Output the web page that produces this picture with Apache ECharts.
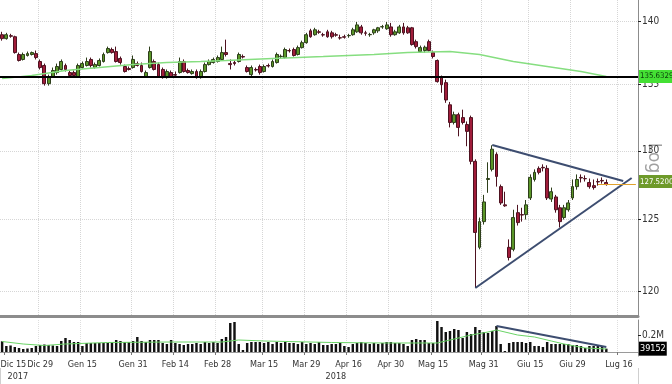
<!DOCTYPE html>
<html><head><meta charset="utf-8">
<script src="https://cdn.jsdelivr.net/npm/echarts@6/dist/echarts.min.js"></script>
<style>html,body{margin:0;padding:0;background:#fff}#c{width:672px;height:384px}</style>
</head><body><div id="c"></div>
<script>
// ---------- categories (trading days, Borsa Italiana holidays skipped) ----------
const holidays = ['2017-12-25','2017-12-26','2018-01-01','2018-03-30','2018-04-02','2018-05-01'];
const firstDay = '2017-12-14', lastDay = '2018-07-20';
function tradingDays(a, b, skip) {
  const out = [];
  const d = new Date(a + 'T00:00:00Z'), end = new Date(b + 'T00:00:00Z');
  while (d <= end) {
    const wd = d.getUTCDay(), s = d.toISOString().slice(0, 10);
    if (wd !== 0 && wd !== 6 && skip.indexOf(s) < 0) out.push(s);
    d.setUTCDate(d.getUTCDate() + 1);
  }
  return out;
}
const categories = tradingDays(firstDay, lastDay, holidays);

// ---------- tick labels ----------
const tickDates = ['2017-12-15','2017-12-29','2018-01-15','2018-01-31','2018-02-14','2018-02-28','2018-03-15','2018-03-29','2018-04-16','2018-04-30','2018-05-15','2018-05-31','2018-06-15','2018-06-29','2018-07-16'];
const tickLabels = ['Dic 15','Dic 29','Gen 15','Gen 31','Feb 14','Feb 28','Mar 15','Mar 29','Apr 16','Apr 30','Mag 15','Mag 31','Giu 15','Giu 29','Lug 16'];
const yearDates = ['2017-12-15','2018-04-11'];
const yearLabels = ['2017','2018'];
const yearBreakDate = '2018-01-02';
const priceTicks = [120,125,130,135,140];
const priceMin = 118.3, priceMax = 141.69;
const volTicks = [200000];
const volTickLabels = ['0.2M'];
const volMin = -47060, volMax = 376480;

// ---------- price data [open, close, low, high] ----------
const ohlc = [
[138.91,138.60,138.44,139.14],[138.60,138.91,138.52,139.06],[138.83,138.79,138.67,138.98],[138.75,137.50,137.42,138.83],
[137.35,136.88,136.80,137.50],[136.96,137.35,136.88,137.50],[137.27,137.42,137.19,137.58],[137.35,137.50,137.27,137.58],
[137.42,137.11,136.96,137.66],[136.80,136.33,136.18,136.96],[136.49,135.08,134.93,136.64],[135.08,135.55,134.93,135.78],
[135.63,136.10,135.55,136.33],[135.94,136.41,135.78,136.64],[136.18,136.80,136.10,136.96],[136.49,136.18,136.02,136.64],
[135.94,135.71,135.55,136.10],[135.94,135.71,135.63,136.10],[135.63,136.49,135.55,136.64],[136.33,136.64,136.25,136.80],
[136.49,136.80,136.41,137.11],[136.96,136.49,136.33,137.11],[136.33,136.56,136.25,136.72],[136.49,136.88,136.41,137.04],
[136.80,137.35,136.72,137.50],[137.50,137.82,137.42,137.97],[137.74,137.50,137.42,137.89],[137.58,136.80,136.72,137.97],
[137.04,136.72,136.56,137.19],[136.41,136.02,135.94,136.56],[136.25,136.18,136.10,136.41],[136.33,136.96,136.25,137.27],
[136.64,136.49,136.41,136.80],[136.49,136.02,135.94,136.72],[135.63,135.94,135.55,136.10],[136.33,137.58,136.25,137.97],
[136.80,136.18,136.10,136.96],[136.56,135.63,135.55,136.72],[136.18,135.55,135.47,136.33],[135.55,136.02,135.47,136.18],
[135.94,135.63,135.55,136.10],[135.78,135.74,135.55,136.02],[135.94,136.80,135.86,137.11],[136.80,136.02,135.94,136.96],
[136.10,135.94,135.86,136.25],[135.86,136.02,135.78,136.18],[136.02,135.55,135.47,136.18],[135.55,136.02,135.47,136.18],
[136.02,136.56,135.94,136.72],[136.56,136.80,136.49,136.96],[136.72,136.96,136.64,137.11],[136.80,137.11,136.72,137.27],
[136.96,137.50,136.88,137.97],[137.50,137.35,137.19,138.52],[136.64,136.56,136.18,136.96],[136.72,136.64,136.49,136.88],
[136.80,137.35,136.72,137.50],[137.19,137.15,137.04,137.35],[136.33,136.02,135.94,136.49],[135.78,136.33,135.63,136.49],
[136.18,136.14,136.02,136.33],[136.41,135.94,135.78,136.56],[136.02,136.41,135.94,136.56],[136.49,136.45,136.33,136.64],
[136.41,136.80,136.33,136.96],[136.72,137.35,136.64,137.50],[137.19,137.21,137.04,137.35],[137.11,137.74,137.04,137.89],
[137.66,137.64,137.50,137.82],[137.74,137.27,137.19,137.89],[137.35,137.89,137.27,138.05],[137.89,138.28,137.82,138.44],
[138.28,138.91,138.20,139.06],[139.22,138.75,138.67,139.38],[138.91,139.30,138.83,139.46],[139.14,139.10,138.98,139.30],
[138.91,138.89,138.75,139.06],[139.14,138.75,138.67,139.30],[139.06,138.75,138.60,139.22],[138.91,138.87,138.75,139.06],
[138.67,138.65,138.52,138.91],[138.75,138.71,138.60,138.91],[138.83,138.85,138.67,138.98],[138.91,139.30,138.83,139.46],
[139.14,139.69,139.06,139.92],[139.53,139.06,138.91,139.69],[139.06,139.02,138.83,139.22],[138.91,138.93,138.75,139.06],
[139.06,139.30,138.91,139.38],[139.22,139.46,139.06,139.53],[139.53,139.55,139.38,139.69],[139.38,139.69,139.30,139.92],
[139.53,138.91,138.75,139.85],[138.91,139.14,138.83,139.30],[139.06,139.53,138.98,139.69],[139.53,139.06,138.91,139.85],
[139.46,139.06,138.98,139.61],[139.46,138.13,138.05,139.53],[138.36,137.97,137.82,138.52],[137.58,137.89,137.50,138.05],
[137.66,137.92,137.50,138.05],[138.36,137.66,137.58,138.52],[137.50,137.19,137.04,137.66],[136.88,135.24,135.16,136.96],
[135.55,135.00,134.38,135.71],[135.16,133.83,133.61,135.39],[133.46,132.12,131.75,133.68],[132.12,132.71,131.97,132.94],
[132.71,131.75,131.08,132.86],[132.49,132.12,131.97,133.09],[131.97,131.45,130.34,132.20],[132.49,129.22,129.00,132.64],
[129.22,124.08,120.21,129.37],[123.03,124.85,122.89,125.14],[124.85,126.26,124.64,126.77],[127.89,127.96,126.92,129.15],
[128.63,130.12,128.48,130.41],[129.74,128.11,127.37,129.89],[127.37,126.19,126.05,127.52],[126.05,125.98,125.91,127.00],
[123.03,122.32,122.11,123.59],[122.89,125.14,122.75,125.70],[125.49,124.78,124.57,126.05],[125.35,125.32,124.85,125.84],
[125.35,126.05,125.00,126.40],[126.55,128.04,126.40,128.26],[127.89,128.41,127.74,128.63],[128.70,128.41,128.26,128.85],
[128.78,128.74,128.48,129.00],[128.70,126.55,126.40,128.93],[126.47,127.00,126.26,127.30],[126.62,125.70,125.49,126.77],
[125.84,124.85,124.43,126.05],[125.14,125.84,125.00,126.05],[125.70,126.19,125.56,126.40],[126.55,127.37,126.40,127.89],
[127.37,127.89,127.15,128.26],[128.04,128.00,127.67,128.26],[127.96,127.94,127.74,128.19],[127.67,127.37,127.22,127.96],
[127.44,127.30,127.15,127.89],[127.74,127.71,127.44,127.96],[127.82,127.78,127.59,128.04],[127.67,127.52,127.44,127.89]
];

// ---------- volume ----------
const volumes = [
125900,70600,76500,58800,47100,35300,41200,47100,70600,82400,
88200,82400,76500,70600,129400,164700,141200,117600,117600,70600,
105900,105900,105900,105900,105900,105900,111800,141200,129400,117600,
117600,129400,176500,129400,117600,141200,141200,141200,105900,94100,
141200,105900,94100,82400,94100,94100,105900,94100,117600,105900,
117600,105900,152900,176500,341200,353000,94100,23500,105900,117600,
117600,117600,105900,117600,94100,117600,105900,117600,105900,105900,
94100,117600,94100,105900,94100,117600,82400,82400,94100,94100,
105900,70600,58800,94100,105900,117600,105900,94100,105900,94100,
105900,117600,117600,105900,105900,94100,70600,141200,152900,141200,
141200,105900,105900,364700,294100,235300,247100,270600,258800,164700,
235300,211800,294100,258800,235300,223500,247100,305900,94100,11800,
105900,117600,117600,117600,105900,117600,70600,70600,58800,117600,
94100,94100,94100,94100,94100,82400,82400,70600,47100,70600,
70600,70600,58800,39152
];

// ---------- moving averages (read points) ----------
const maDates = ['2017-12-14','2017-12-27','2018-01-09','2018-01-19','2018-01-31','2018-02-12','2018-02-22','2018-03-02','2018-03-19','2018-04-06','2018-04-24','2018-05-07','2018-05-21','2018-05-30','2018-06-11','2018-06-21','2018-07-03','2018-07-11'];
const maValues = [135.47,135.71,136.10,136.33,136.56,136.72,136.80,136.88,137.04,137.19,137.35,137.50,137.58,137.35,136.80,136.41,136.02,135.6329];
const volMaDates = ['2017-12-14','2017-12-21','2018-01-02','2018-01-09','2018-01-23','2018-02-13','2018-03-01','2018-03-07','2018-03-15','2018-04-10','2018-04-26','2018-05-16','2018-05-22','2018-05-28','2018-06-01','2018-06-05','2018-06-12','2018-06-18','2018-06-22','2018-06-27','2018-07-04','2018-07-11'];
const volMaValues = [123500,94100,76500,94100,111800,117600,117600,141200,129400,111800,105900,105900,152900,200000,235300,258800,200000,176500,129400,94100,47100,35300];

// ---------- annotations ----------
const supportLevel = 135.25;
const triUpperDates = ['2018-06-04','2018-07-17'], triUpperValues = [130.43,127.78];
const triLowerDates = ['2018-05-29','2018-07-19'], triLowerValues = [120.21,128.0];
const lastPrice = 127.52, lastPriceDates = ['2018-07-09','2018-07-20'];
const lastMa = 135.6329;
const volTrendDates = ['2018-06-05','2018-07-11'], volTrendValues = [305900,58800];
const lastVolume = 39152;

// ---------- chart ----------
const L = Math.log;
const FF = "'Liberation Sans Narrow','DejaVu Sans Condensed',sans-serif";
const isTick = (i, v) => tickDates.indexOf(v) >= 0;
const isGrid = (i, v) => tickDates.indexOf(v) > 0;
const triColor = '#3d4d70';
const clear = 'rgba(0,0,0,0)';
const boxLabel = (text, bg, fg, size) => ({show: true, position: 'end', distance: 1, formatter: text,
  fontSize: size, fontFamily: FF, color: fg, backgroundColor: bg, padding: [3, 1, 2, 1]});

const chart = echarts.init(document.getElementById('c'), null, {renderer: 'canvas'});
chart.setOption({
  animation: false,
  backgroundColor: '#fff',
  textStyle: {fontFamily: FF},
  grid: [
    {left: 0, right: 34, top: 0, height: 316, containLabel: false, outerBoundsMode: 'none'},
    {left: 0, right: 34, top: 320, height: 36, containLabel: false, outerBoundsMode: 'none'}
  ],
  xAxis: [
    {type: 'category', gridIndex: 0, data: categories, boundaryGap: true,
     axisLine: {show: true, lineStyle: {color: '#8c8c8c', width: 3}},
     axisTick: {show: false}, axisLabel: {show: false},
     splitLine: {show: true, interval: isGrid, lineStyle: {color: '#d6d6d6', type: 'dotted'}}},
    {type: 'category', gridIndex: 1, data: categories, boundaryGap: true,
     axisLine: {show: true, lineStyle: {color: '#9a9a9a', width: 1}},
     axisTick: {show: true, interval: isTick, length: 3, lineStyle: {color: '#777'}},
     axisLabel: {show: true, interval: isTick, margin: 4, fontSize: 9, color: '#333', fontFamily: FF,
       showMinLabel: true, hideOverlap: false,
       formatter: (v) => { const k = tickDates.indexOf(v); return k === 0 ? '{f|' + tickLabels[k] + '}' : tickLabels[k]; },
       rich: {f: {padding: [0, 0, 0, 14], fontSize: 9, color: '#333', fontFamily: FF}}},
     splitLine: {show: true, interval: isGrid, lineStyle: {color: '#dedede', type: 'dotted'}}},
    {type: 'category', gridIndex: 1, data: categories, boundaryGap: true, position: 'bottom', offset: 12,
     axisLine: {show: false},
     axisTick: {show: true, interval: (i, v) => v === yearBreakDate, length: 16, lineStyle: {color: '#cfcfcf'}},
     axisLabel: {show: true, interval: (i, v) => yearDates.indexOf(v) >= 0, margin: 4, fontSize: 9, color: '#333', fontFamily: FF,
       showMinLabel: true,
       formatter: (v) => { const k = yearDates.indexOf(v); return k === 0 ? '{f|' + yearLabels[k] + '}' : yearLabels[k]; },
       rich: {f: {padding: [0, 0, 0, 23], fontSize: 9, color: '#333', fontFamily: FF}}},
     splitLine: {show: false}}
  ],
  yAxis: [
    {type: 'value', gridIndex: 0, position: 'right', min: L(priceMin), max: L(priceMax),
     axisLine: {show: true, lineStyle: {color: '#8c8c8c'}},
     axisTick: {show: true, length: 3, customValues: priceTicks.map(L), lineStyle: {color: '#222'}},
     axisLabel: {show: true, customValues: priceTicks.map(L), margin: 4, fontSize: 10, color: '#333', fontFamily: FF,
       formatter: (v) => String(Math.round(Math.exp(v)))},
     splitLine: {show: true, lineStyle: {color: '#d6d6d6', type: 'dotted'}},
     name: 'Log', nameLocation: 'middle', nameRotate: -90, nameGap: 7, nameMoveOverlap: false,
     nameTextStyle: {fontSize: 17, color: '#a0a0a0', fontFamily: "'DejaVu Sans',sans-serif"}},
    {type: 'value', gridIndex: 1, position: 'right', min: volMin, max: volMax,
     axisLine: {show: true, lineStyle: {color: '#8c8c8c'}},
     axisTick: {show: true, length: 3, customValues: volTicks, lineStyle: {color: '#222'}},
     axisLabel: {show: true, customValues: volTicks, margin: 4, fontSize: 10, color: '#333', fontFamily: FF,
       formatter: (v) => volTickLabels[volTicks.indexOf(v)] || ''},
     splitLine: {show: false}}
  ],
  series: [
    {type: 'candlestick', xAxisIndex: 0, yAxisIndex: 0, clip: false, silent: true,
     barWidth: '80%',
     data: ohlc.map(r => r.map(L)),
     itemStyle: {color: '#5a9628', color0: '#a01c3a', borderColor: '#2e3f1b', borderColor0: '#4e1220', borderWidth: 1},
     markLine: {silent: true, symbol: ['none', 'none'], animation: false,
       label: {show: false},
       lineStyle: {color: triColor, width: 2, type: 'solid'},
       data: [
         {yAxis: L(supportLevel), lineStyle: {color: '#000', width: 2, type: 'solid'}, label: {show: false}},
         [{coord: [triUpperDates[0], L(triUpperValues[0])], lineStyle: {color: triColor, width: 2, type: 'solid'}},
          {coord: [triUpperDates[1], L(triUpperValues[1])]}],
         [{coord: [triLowerDates[0], L(triLowerValues[0])], lineStyle: {color: triColor, width: 2, type: 'solid'}},
          {coord: [triLowerDates[1], L(triLowerValues[1])]}],
         [{coord: [lastPriceDates[0], L(lastPrice)], lineStyle: {color: '#e0a12c', width: 1, type: 'solid'}},
          {coord: [lastPriceDates[1], L(lastPrice)]}]
       ]}},
    {type: 'line', xAxisIndex: 0, yAxisIndex: 0, clip: false, silent: true, symbol: 'none', smooth: false,
     data: maDates.map((d, i) => [d, L(maValues[i])]),
     lineStyle: {color: '#86de80', width: 1.5}, z: 3,
     markLine: {silent: true, symbol: ['none', 'none'], animation: false,
       data: [
         {yAxis: L(lastMa), lineStyle: {color: clear, width: 1},
          label: boxLabel(lastMa.toFixed(4), '#44e034', '#0b3b0b', 7.8)},
         {yAxis: L(lastPrice), lineStyle: {color: clear, width: 1},
          label: boxLabel(lastPrice.toFixed(4), '#6e9a2a', '#ffffff', 7.8)}
       ]}},
    {type: 'bar', xAxisIndex: 1, yAxisIndex: 1, clip: false, silent: true, barWidth: '58%',
     data: volumes, itemStyle: {color: '#111'},
     markLine: {silent: true, symbol: ['none', 'none'], animation: false,
       label: {show: false},
       data: [
         [{coord: [volTrendDates[0], volTrendValues[0]], lineStyle: {color: triColor, width: 2, type: 'solid'}},
          {coord: [volTrendDates[1], volTrendValues[1]]}]
       ]}},
    {type: 'line', xAxisIndex: 1, yAxisIndex: 1, clip: false, silent: true, symbol: 'none',
     data: volMaDates.map((d, i) => [d, volMaValues[i]]),
     lineStyle: {color: '#6ad466', width: 1}, z: 3,
     markLine: {silent: true, symbol: ['none', 'none'], animation: false,
       data: [
         {yAxis: lastVolume, lineStyle: {color: clear, width: 1},
          label: boxLabel(String(lastVolume), '#000000', '#ffffff', 9)}
       ]}}
  ]
});
</script>
</body></html>
